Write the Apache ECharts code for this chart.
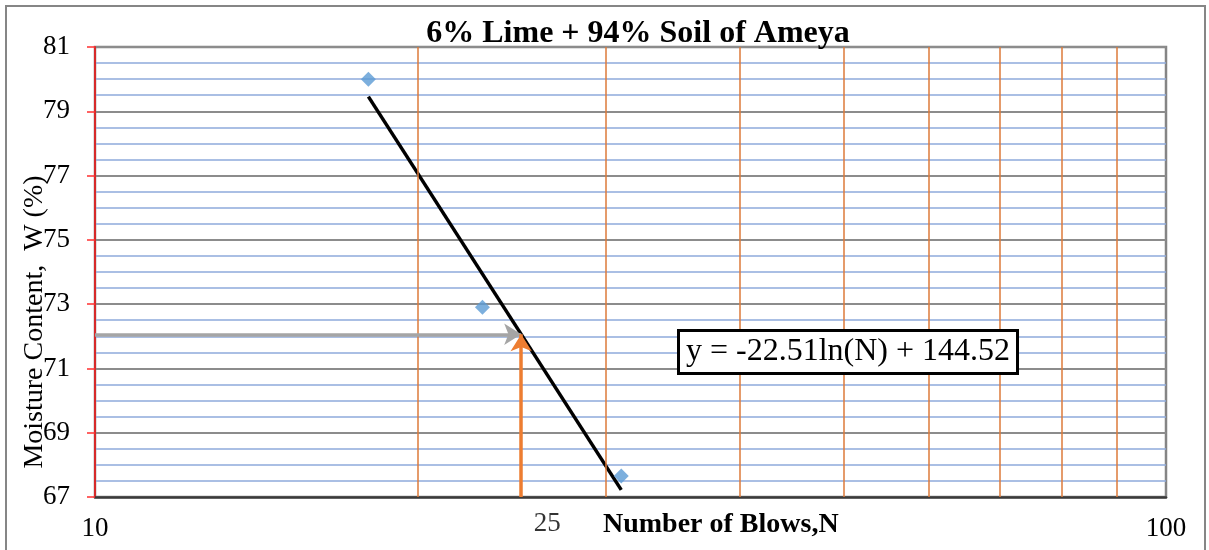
<!DOCTYPE html>
<html>
<head>
<meta charset="utf-8">
<script src="https://cdn.jsdelivr.net/npm/echarts@6/dist/echarts.min.js"></script>
<style>
  html, body { margin: 0; padding: 0; background: #fff; }
  #chart { width: 1209px; height: 550px; }
</style>
</head>
<body>
<div id="chart"></div>
<script>
// Liquid-limit test: moisture content against number of blows (log scale)
const blows = [18, 23, 31];
const moisture = [80.0, 72.9, 67.65];

// Logarithmic trendline fitted to the test points
const slope = -22.51;
const intercept = 144.52;
const equationText = 'y = -22.51ln(N) + 144.52';

// Standard 25-blow reading
const refBlows = 25;

// Minor vertical gridlines of the log axis
const blowGridValues = [20, 30, 40, 50, 60, 70, 80, 90];

// Axis ranges
const yMin = 67, yMax = 81, yStep = 2;
const xMin = 10, xMax = 100;

const titleText = '6% Lime + 94% Soil of Ameya';
const xTitle = 'Number of Blows,N';
const yTitle = 'Moisture Content,  W (%)';

const serif = '"Liberation Serif", "Times New Roman", serif';
const trend = n => slope * Math.log(n) + intercept;
const wAtRef = trend(refBlows);

const firstN = blows[0];
const lastN = blows[blows.length - 1];
const trendData = [[firstN, trend(firstN)], [lastN, trend(lastN)]];

const chart = echarts.init(document.getElementById('chart'), null, { renderer: 'canvas' });

chart.setOption({
  backgroundColor: '#ffffff',
  animation: false,
  title: [
    {
      text: titleText,
      left: 633,
      top: 13,
      textAlign: 'center',
      textStyle: { fontFamily: serif, fontSize: 32, fontWeight: 'bold', color: '#000' }
    },
    {
      text: equationText,
      left: 678,
      top: 330,
      padding: [3, 8, 3, 8],
      backgroundColor: '#ffffff',
      borderColor: '#000000',
      borderWidth: 3,
      textStyle: { fontFamily: serif, fontSize: 32, fontWeight: 'normal', color: '#000', lineHeight: 38 }
    }
  ],
  grid: {
    left: 95, right: 43, top: 47, bottom: 53,
    show: true,
    borderColor: '#858585',
    borderWidth: 2.5,
    backgroundColor: '#ffffff'
  },
  xAxis: {
    type: 'log',
    logBase: 10,
    min: xMin,
    max: xMax,
    axisLine: { show: true, lineStyle: { color: '#3a3a3a', width: 2.5 } },
    axisTick: { show: false },
    splitLine: { show: false },
    minorTick: { show: false },
    minorSplitLine: { show: false },
    axisLabel: { fontFamily: serif, fontSize: 27, color: '#000', margin: 18 }
  },
  yAxis: {
    type: 'value',
    min: yMin,
    max: yMax,
    interval: yStep,
    axisLine: { show: true, lineStyle: { color: '#d62a2a', width: 2 } },
    axisTick: { show: true, inside: false, length: 8, lineStyle: { color: '#ff3030', width: 1.5 } },
    axisLabel: { fontFamily: serif, fontSize: 27, color: '#000', margin: 25 },
    splitLine: { show: true, lineStyle: { color: '#8c8c8c', width: 2 } },
    minorTick: { show: false, splitNumber: 4 },
    minorSplitLine: { show: true, lineStyle: { color: '#8eaadb', width: 1.5 } }
  },
  graphic: [
    {
      type: 'rect',
      silent: true,
      shape: { x: 6, y: 6, width: 1199, height: 620 },
      style: { fill: 'none', stroke: '#868686', lineWidth: 2 }
    },
    {
      type: 'text',
      silent: true,
      x: 35,
      y: 322,
      rotation: Math.PI / 2,
      style: {
        text: yTitle,
        font: '28px ' + serif,
        fill: '#000',
        textAlign: 'center',
        textVerticalAlign: 'middle'
      }
    },
    {
      type: 'text',
      silent: true,
      x: 603,
      y: 525,
      style: {
        text: xTitle,
        font: 'bold 28px ' + serif,
        fill: '#000',
        textAlign: 'left',
        textVerticalAlign: 'middle'
      }
    }
  ],
  series: [
    {
      // gridlines at 20..90 and the "25" tick text
      name: 'Reference',
      type: 'scatter',
      data: [[refBlows, yMin]],
      symbolSize: 0,
      silent: true,
      z: 1,
      label: {
        show: true,
        position: 'bottom',
        distance: 13,
        offset: [26, 0],
        formatter: String(refBlows),
        fontFamily: serif,
        fontSize: 27,
        color: '#000'
      },
      markLine: {
        silent: true,
        symbol: ['none', 'none'],
        label: { show: false },
        lineStyle: { color: '#dd7a3a', width: 1.5, type: 'solid' },
        data: blowGridValues.map(v => ({ xAxis: v }))
      }
    },
    {
      // arrows reading the moisture content at 25 blows
      name: 'Reading',
      type: 'line',
      data: [[refBlows, wAtRef]],
      symbol: 'none',
      lineStyle: { opacity: 0 },
      silent: true,
      z: 2,
      markLine: {
        silent: true,
        symbol: ['none', 'arrow'],
        symbolSize: [16, 17],
        label: { show: false },
        lineStyle: { width: 3.5, type: 'solid' },
        data: [
          [
            { coord: [xMin, wAtRef], lineStyle: { color: '#a5a5a5', width: 3.5 } },
            { coord: [refBlows, wAtRef] }
          ],
          [
            { coord: [refBlows, yMin], lineStyle: { color: '#ed7d31', width: 3.5 } },
            { coord: [refBlows, wAtRef] }
          ]
        ]
      }
    },
    {
      name: 'Trendline',
      type: 'line',
      data: trendData,
      symbol: 'none',
      lineStyle: { color: '#000000', width: 3.5 },
      z: 4
    },
    {
      name: 'Moisture Content',
      type: 'scatter',
      data: blows.map((n, i) => [n, moisture[i]]),
      symbol: 'diamond',
      symbolSize: 15,
      itemStyle: { color: '#5b9bd5' },
      z: 5
    }
  ]
});
</script>
</body>
</html>
